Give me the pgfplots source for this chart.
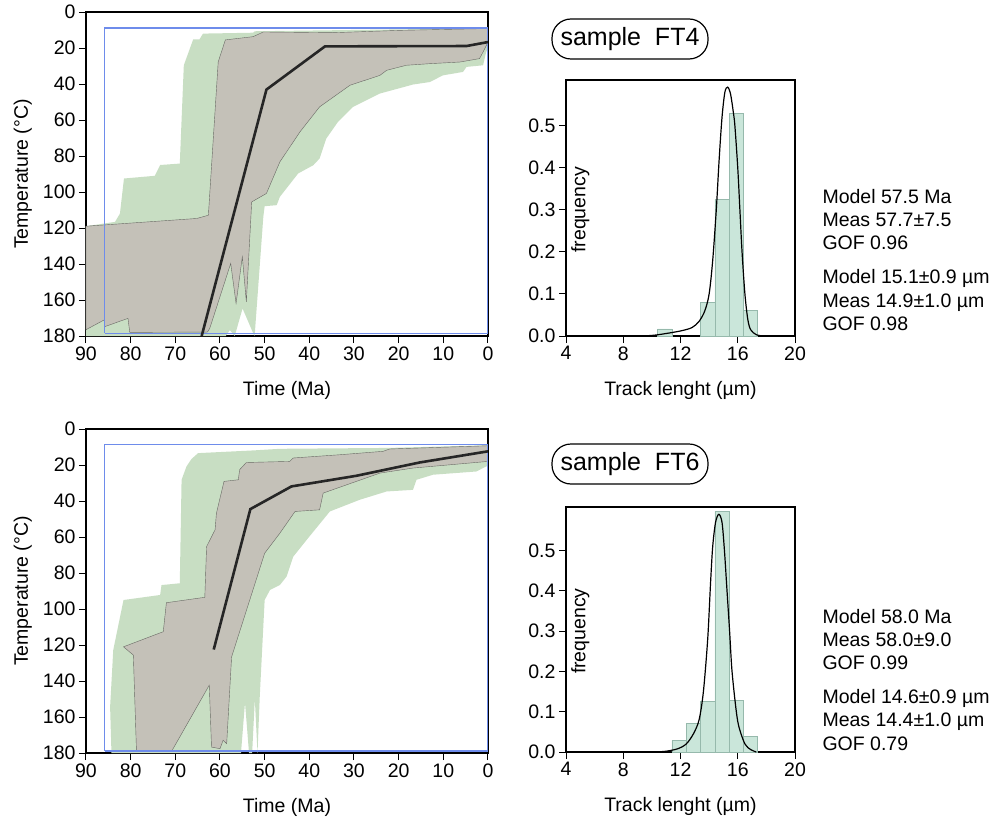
\documentclass[border=0pt]{standalone}
\usepackage{fontspec}
\setmainfont{Liberation Sans}
\usepackage{pgfplots}
\pgfplotsset{compat=1.18}
\definecolor{gfill}{RGB}{200,222,195}
\definecolor{grfill}{RGB}{196,193,184}
\definecolor{grline}{RGB}{105,105,100}
\definecolor{bline}{RGB}{110,140,235}
\definecolor{barfill}{RGB}{202,230,218}
\definecolor{barline}{RGB}{150,185,172}
\pgfplotsset{
  every axis/.append style={/pgf/number format/assume math mode=true},
  tpath/.style={width=402pt,height=324pt,scale only axis,
    xmin=0,xmax=90,ymin=0,ymax=180,x dir=reverse,y dir=reverse,
    xtick={0,10,...,90},ytick={0,20,...,180},
    tick align=outside,tick pos=left,
    axis line style={line width=1.6pt},
    major tick length=7pt,tick style={line width=1pt,black},
    xlabel={Time (Ma)},ylabel={Temperature (°C)},
    xlabel style={at={(axis description cs:0.5,-0.168)},anchor=center},
    ylabel style={at={(axis description cs:-0.157,0.5)},anchor=center,rotate=0},
  },
  hist/.style={width=229pt,scale only axis,xmin=4,xmax=20,ymin=0,
    xtick={4,8,12,16,20},ytick={0,0.1,0.2,0.3,0.4,0.5},
    yticklabel style={/pgf/number format/.cd,fixed,fixed zerofill,precision=1},
    tick align=outside,tick pos=left,
    axis line style={line width=1.6pt},
    major tick length=7pt,tick style={line width=1pt,black},
    xlabel={Track lenght (µm)},
  },
}
\begin{document}
\begin{tikzpicture}[font=\fontsize{19.5}{23}\selectfont]
\path (0,0) rectangle (995pt,-818pt);

% ---------- top thermal history ----------
\begin{axis}[tpath,at={(86pt,-12pt)},anchor=north west]
\addplot[fill=gfill,draw=none] coordinates {
(90,180) (90,119) (83.5,116.6) (82.4,112) (81.5,92.5) (74.6,91) (73.4,85) (69.0,84.2)
(68.1,29.6) (66.0,15.2) (64.6,15.2) (63.8,12.0) (52.6,11.5) (52.2,10.7) (0,9)
(0,20) (0.4,22.2) (1.1,29.6) (4.8,30.5) (5.6,33.3) (10.1,35.2) (13.0,38.9) (16.8,40.3)
(24.2,45.3) (30.2,52.7) (33.6,61.1) (36.2,70.3) (37.7,81.4) (39.1,85.1) (42.5,89.7)
(46.6,102.7) (47.3,107.3) (50.0,107.9) (50.3,113.8) (52.2,178.5) (52.3,180)
(54.95,164.7) (56.7,180) (57.8,176.7) (58.7,180)} --cycle;
\addplot[fill=grfill,draw=grline,line width=0.4pt] coordinates {
(90,119) (65.2,114.7) (62.6,112.9) (60.4,27.7) (58.8,15.5) (52.6,13.7) (50.3,11.1)
(34.7,11.5) (19.8,10.2) (0,9.2) (0,16.7) (1.1,22.2) (1.9,25.9) (6.3,27.8) (13.0,28.7)
(18.3,29.6) (22.7,32.4) (24.2,35.2) (30.9,40.7) (37.7,52.7) (42.1,66.6) (46.6,83.3)
(49.6,100.8) (52.9,105.5) (54.1,161) (55.0,136) (56.4,161.9) (57.6,139.7) (62.3,175.8)
(62.8,177.8) (80.2,178) (80.6,170.2) (85.8,174.8) (85.8,170.9) (90,176.5)} --cycle;
\addplot[bline,line width=1.3pt] coordinates {(85.8,178.5) (85.8,8.9) (0,8.9) (0,178.5) (85.8,178.5)};
\addplot[black!85,line width=2.6pt] coordinates {(64.1,180) (49.6,43.1) (36.5,19.1) (4.8,18.9) (0,16.7)};
\end{axis}

% ---------- top histogram ----------
\begin{axis}[hist,at={(566pt,-80pt)},anchor=north west,height=256pt,ymax=0.609,
  xlabel style={at={(axis description cs:0.5,-0.211)},anchor=center}]
\addplot[ybar,bar width=1,bar shift=0pt,fill=barfill,draw=barline,line width=0.6pt] coordinates {
(10.9,0.0167) (13.9,0.080) (14.9,0.325) (15.9,0.530) (16.9,0.0605)};
\addplot[black,line width=1.2pt,smooth,tension=0.5] coordinates {
(9.4,0) (10.2,0.002) (11.0,0.006) (12.0,0.012) (12.8,0.02) (13.3,0.035) (13.7,0.06)
(14.0,0.1) (14.25,0.18) (14.5,0.3) (14.7,0.42) (14.9,0.52) (15.1,0.58) (15.3,0.592)
(15.5,0.575) (15.7,0.53) (15.8,0.5) (16.0,0.4) (16.15,0.3) (16.3,0.2) (16.5,0.1)
(16.7,0.04) (16.9,0.015) (17.3,0.003) (17.8,0)};
\node[rotate=90] at (axis cs:5.0,0.30) {frequency};
\end{axis}

\node[draw,line width=1.2pt,rounded corners=19pt,minimum width=156pt,minimum height=40pt,
  font=\fontsize{25}{28}\selectfont] at (630pt,-39pt) {sample\ \ FT4};
\node[anchor=base west] at (819pt,-203.5pt) {Model 57.5 Ma};
\node[anchor=base west] at (819pt,-226pt) {Meas 57.7±7.5};
\node[anchor=base west] at (819pt,-249pt) {GOF 0.96};
\node[anchor=base west] at (819pt,-283pt) {Model 15.1±0.9 µm};
\node[anchor=base west] at (819pt,-307pt) {Meas 14.9±1.0 µm};
\node[anchor=base west] at (819pt,-330pt) {GOF 0.98};

% ---------- bottom thermal history ----------
\begin{axis}[tpath,at={(86pt,-429pt)},anchor=north west]
\addplot[fill=gfill,draw=none] coordinates {
(84.3,180) (84.6,154.4) (83.9,122.8) (81.6,95.0) (73.4,92.2) (73.1,86.7) (69.0,85.7)
(68.6,28.2) (67.5,20.8) (66.4,16.7) (64.9,13.4) (52.6,11.9) (46.6,11.0) (22.0,10.5) (0,9.0)
(0,20.8) (0.4,20.8) (2.6,23.6) (12.3,25.4) (16.0,28.2) (16.8,33.8) (22.7,34.7) (28.7,39.3)
(35.4,45.8) (40.6,61.6) (43.6,70.9) (45.1,82.0) (46.6,86.7) (48.8,89.4) (50.0,95.0)
(51.1,148.8) (51.6,180) (52.2,150) (52.8,180) (53.5,180) (54.4,152) (55.3,180)} --cycle;
\addplot[fill=grfill,draw=grline,line width=0.4pt] coordinates {
(78.7,178.9) (79.4,125.6) (81.6,121.0) (72.7,112.6) (72.0,96.5) (63.4,93.5) (63.0,65.3)
(61.1,56.0) (60.8,46.8) (59.1,29.1) (55.9,28.2) (55.6,22.6) (54.1,18.6) (44.4,18.0)
(43.6,16.1) (33.2,14.3) (23.5,12.4) (22.0,11.1) (0,9.3) (0,18.0) (16.8,21.7) (24.2,24.5)
(36.9,35.6) (37.7,44.9) (43.2,45.8) (46.6,57.9) (50.0,69.0) (57.4,126.6) (58.5,174.8)
(59.3,172.9) (60.0,177.6) (61.9,176.7) (62.4,142.3) (70.8,178.9)} --cycle;
\addplot[bline,line width=1.3pt] coordinates {(85.8,178.9) (85.8,8.7) (0,8.7) (0,178.9) (85.8,178.9)};
\addplot[black!85,line width=2.6pt] coordinates {(61.4,122.5) (53.2,44.5) (44.0,31.9) (29.5,26.0) (15.3,18.6) (0,12.4)};
\end{axis}

% ---------- bottom histogram ----------
\begin{axis}[hist,at={(566pt,-507pt)},anchor=north west,height=245pt,ymax=0.608,
  xlabel style={at={(axis description cs:0.5,-0.223)},anchor=center}]
\addplot[ybar,bar width=1,bar shift=0pt,fill=barfill,draw=barline,line width=0.6pt] coordinates {
(11.9,0.029) (12.9,0.0706) (13.9,0.126) (14.9,0.597) (15.9,0.128) (16.9,0.039)};
\addplot[black,line width=1.2pt,smooth,tension=0.5] coordinates {
(10.3,0) (11.0,0.002) (11.8,0.008) (12.4,0.02) (12.9,0.045) (13.3,0.08) (13.6,0.15)
(13.9,0.28) (14.1,0.42) (14.25,0.51) (14.45,0.57) (14.68,0.59) (14.9,0.57) (15.07,0.5)
(15.25,0.4) (15.43,0.3) (15.6,0.2) (15.9,0.1) (16.1,0.06) (16.5,0.02) (16.9,0.006) (17.3,0)};
\node[rotate=90] at (axis cs:5.0,0.30) {frequency};
\end{axis}

\node[draw,line width=1.2pt,rounded corners=19pt,minimum width=156pt,minimum height=40pt,
  font=\fontsize{25}{28}\selectfont] at (630pt,-464pt) {sample\ \ FT6};
\node[anchor=base west] at (819pt,-623pt) {Model 58.0 Ma};
\node[anchor=base west] at (819pt,-646pt) {Meas 58.0±9.0};
\node[anchor=base west] at (819pt,-669pt) {GOF 0.99};
\node[anchor=base west] at (819pt,-703pt) {Model 14.6±0.9 µm};
\node[anchor=base west] at (819pt,-726.5pt) {Meas 14.4±1.0 µm};
\node[anchor=base west] at (819pt,-750pt) {GOF 0.79};
\end{tikzpicture}
\end{document}
